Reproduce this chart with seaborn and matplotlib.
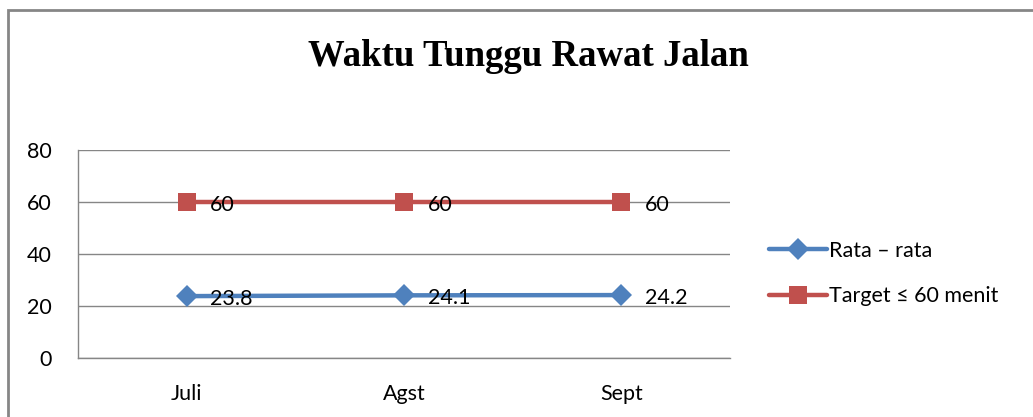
import pandas as pd
import seaborn as sns
import matplotlib.pyplot as plt
from matplotlib.patches import Rectangle

# data
bulan = ['Juli', 'Agst', 'Sept']
rata_rata = [23.8, 24.1, 24.2]
target = [60, 60, 60]
y_ticks = [0, 20, 40, 60, 80]

sns.set_style("white")
plt.rcParams['font.family'] = ['Lato', 'DejaVu Sans']
plt.rcParams['text.color'] = 'black'
plt.rcParams['xtick.color'] = 'black'
plt.rcParams['ytick.color'] = 'black'

df = pd.DataFrame({
    'bulan': bulan * 2,
    'nilai': rata_rata + target,
    'seri': ['Rata – rata'] * 3 + ['Target ≤ 60 menit'] * 3,
})

fig = plt.figure(figsize=(10.33, 4.17), dpi=100)
ax = fig.add_axes([78 / 1033, 1 - 358 / 417, 652 / 1033, 208 / 417])

warna = {'Rata – rata': '#4F81BD', 'Target ≤ 60 menit': '#C0504D'}
marker = {'Rata – rata': 'D', 'Target ≤ 60 menit': 's'}
ukuran = {'Rata – rata': 11, 'Target ≤ 60 menit': 13}

for seri in ['Rata – rata', 'Target ≤ 60 menit']:
    d = df[df['seri'] == seri]
    sns.lineplot(data=d, x='bulan', y='nilai', ax=ax, color=warna[seri],
                 linewidth=3.2, marker=marker[seri], markersize=ukuran[seri],
                 markeredgewidth=0, label=seri, sort=False)
    for i, v in enumerate(d['nilai']):
        ax.annotate(f'{v:g}', (i, v), xytext=(17, -2), textcoords='offset points',
                    ha='left', va='center', fontsize=15.5, color='black')

ax.set_xlim(-0.5, 2.5)
ax.set_ylim(0, 80)
ax.set_yticks(y_ticks)
ax.set_xlabel('')
ax.set_ylabel('')
ax.grid(axis='y', color='#868686', linewidth=1)
for s in ['top', 'right']:
    ax.spines[s].set_visible(False)
for s in ['left', 'bottom']:
    ax.spines[s].set_color('#868686')
    ax.spines[s].set_linewidth(1)
ax.tick_params(axis='both', length=0, labelsize=15.5)
ax.tick_params(axis='y', pad=19)
ax.tick_params(axis='x', pad=19)

leg = ax.legend(loc='center left', bbox_to_anchor=(1.03, 0.406), frameon=False,
                fontsize=15.5, handlelength=2.7, handletextpad=0.1, labelspacing=1.2)

fig.text(528 / 1033, 1 - 56 / 417, 'Waktu Tunggu Rawat Jalan', ha='center', va='center',
         fontsize=26.5, fontweight='bold', family='Liberation Serif', color='black')

# bingkai luar
fig.patches.append(Rectangle((8 / 1033, -0.05), 1.1, 1.05 - 10 / 417, transform=fig.transFigure,
                             fill=False, edgecolor='#868686', linewidth=2))

plt.savefig('out.png', dpi=100)
